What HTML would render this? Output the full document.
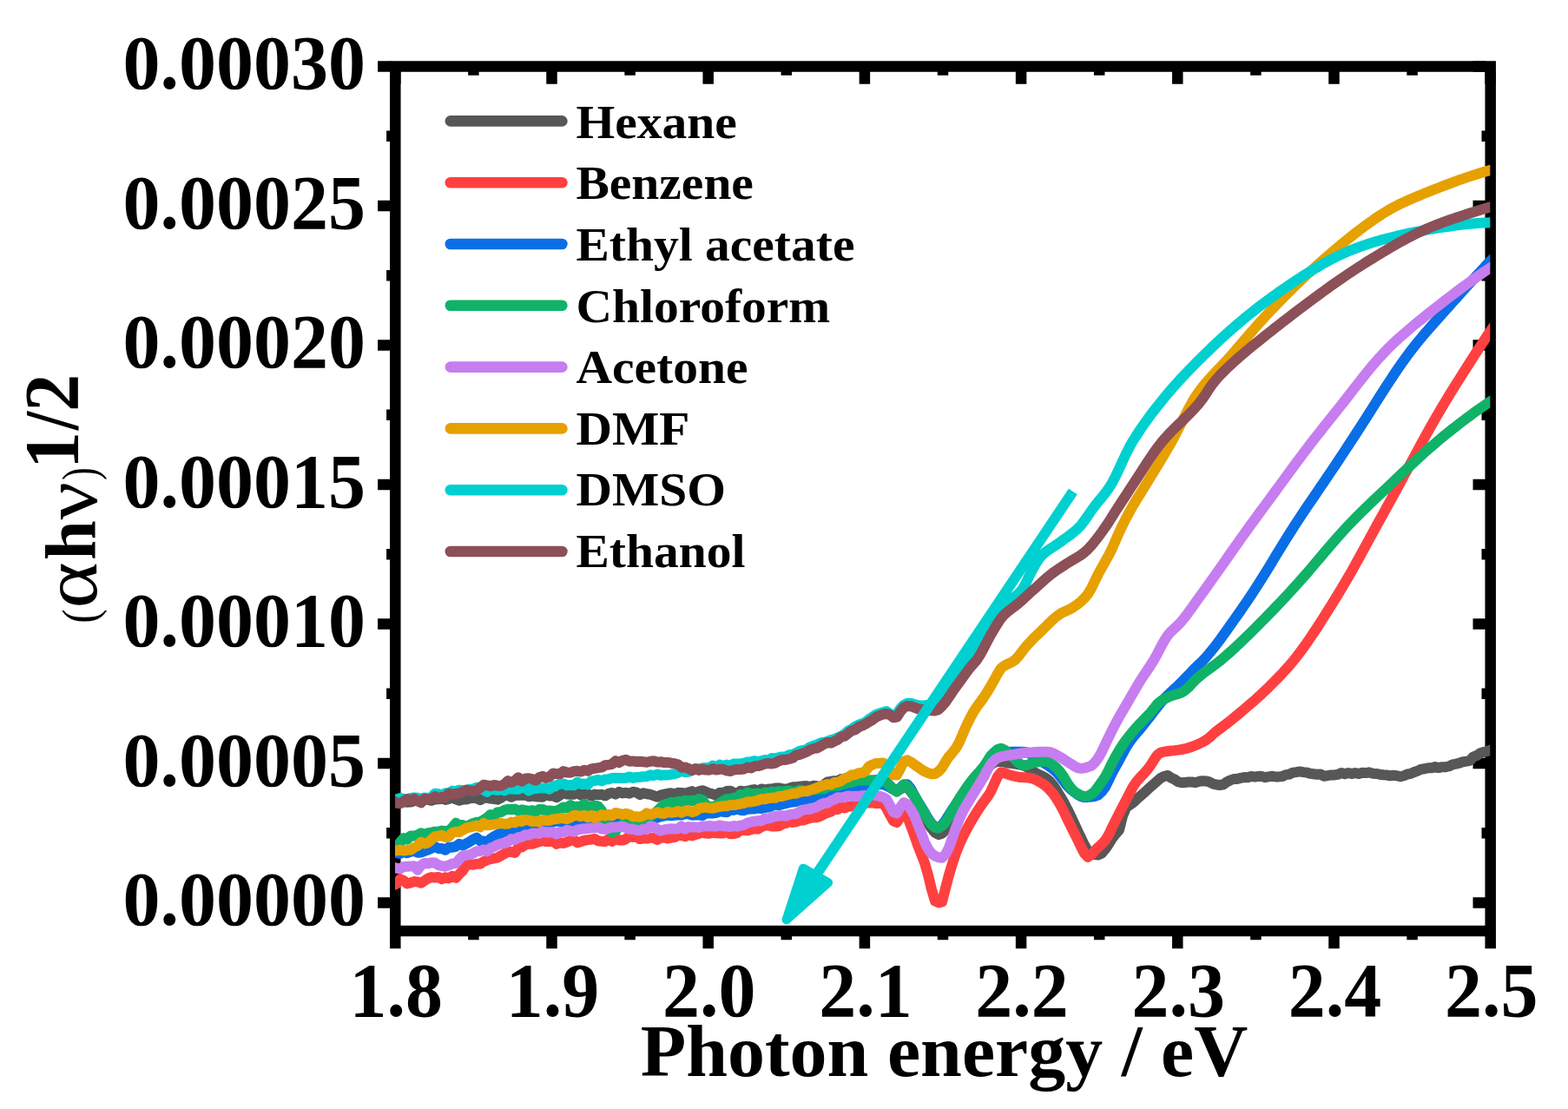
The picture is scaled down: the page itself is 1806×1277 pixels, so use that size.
<!DOCTYPE html>
<html lang="en"><head><meta charset="utf-8"><title>Tauc plot</title>
<style>
html,body{margin:0;padding:0;background:#fff;}
body{width:1806px;height:1277px;overflow:hidden;}
svg{display:block;}
text{font-family:"Liberation Serif","DejaVu Serif",serif;font-weight:bold;fill:#000;}
.tk{font-size:86px;}
.lg{font-size:57.5px;}
.cv{fill:none;stroke-linejoin:round;stroke-linecap:butt;stroke-width:12.0;}
.ax{stroke:#000;fill:none;}
</style></head><body>
<svg width="1806" height="1277" viewBox="0 0 1806 1277">
<rect x="0" y="0" width="1806" height="1277" fill="#fff"/>
<defs><clipPath id="pc"><rect x="455.0" y="76.5" width="1261.3" height="1015.5"/></clipPath></defs>
<rect class="ax" x="455.3" y="76.5" width="1261.4" height="995.5" stroke-width="12.5"/>
<path class="ax" stroke-width="12.5" d="M455.3 1077.2v15.0M455.3 81.8v15.0M635.5 1077.2v15.0M635.5 81.8v15.0M815.7 1077.2v15.0M815.7 81.8v15.0M995.9 1077.2v15.0M995.9 81.8v15.0M1176.1 1077.2v15.0M1176.1 81.8v15.0M1356.3 1077.2v15.0M1356.3 81.8v15.0M1536.5 1077.2v15.0M1536.5 81.8v15.0M1716.7 1077.2v15.0M1716.7 81.8v15.0M545.4 1077.2v5.0M545.4 81.8v5.0M725.6 1077.2v5.0M725.6 81.8v5.0M905.8 1077.2v5.0M905.8 81.8v5.0M1086.0 1077.2v5.0M1086.0 81.8v5.0M1266.2 1077.2v5.0M1266.2 81.8v5.0M1446.4 1077.2v5.0M1446.4 81.8v5.0M1626.6 1077.2v5.0M1626.6 81.8v5.0M450.1 1039.6h-15.0M1711.5 1039.6h-15.0M450.1 879.1h-15.0M1711.5 879.1h-15.0M450.1 718.5h-15.0M1711.5 718.5h-15.0M450.1 558.0h-15.0M1711.5 558.0h-15.0M450.1 397.5h-15.0M1711.5 397.5h-15.0M450.1 236.9h-15.0M1711.5 236.9h-15.0M450.1 76.4h-15.0M1711.5 76.4h-15.0M450.1 959.3h-5.0M1711.5 959.3h-5.0M450.1 798.8h-5.0M1711.5 798.8h-5.0M450.1 638.3h-5.0M1711.5 638.3h-5.0M450.1 477.7h-5.0M1711.5 477.7h-5.0M450.1 317.2h-5.0M1711.5 317.2h-5.0M450.1 156.7h-5.0M1711.5 156.7h-5.0"/>
<g clip-path="url(#pc)">
<polyline class="cv" stroke="#575757" points="445.0,921.4 449.0,923.9 453.0,921.5 457.0,924.1 461.0,923.4 465.0,923.2 469.0,923.7 473.0,923.5 477.0,922.2 481.0,920.7 485.0,920.5 489.0,920.5 493.0,920.9 497.0,921.8 501.0,920.4 505.0,920.3 509.0,919.6 513.0,920.9 517.0,919.9 521.0,917.8 525.0,920.4 529.0,921.7 533.0,920.6 537.0,920.6 541.0,919.3 545.0,918.8 549.0,919.3 553.0,921.2 557.0,919.1 561.0,918.6 565.0,919.6 569.0,919.9 573.0,920.7 577.0,918.9 581.0,915.6 585.0,916.0 589.0,917.7 593.0,915.9 597.0,915.8 601.0,915.7 605.0,915.6 609.0,917.3 613.0,916.5 617.0,917.2 621.0,917.5 625.0,917.7 629.0,914.2 633.0,916.4 637.0,916.3 641.0,918.2 645.0,915.6 649.0,911.6 653.0,914.6 657.0,914.8 661.0,914.8 665.0,912.7 669.0,915.5 673.0,914.2 677.0,914.0 681.0,916.5 685.0,914.6 689.0,915.2 693.0,914.8 697.0,916.3 701.0,913.8 705.0,912.9 709.0,914.6 713.0,911.8 717.0,913.4 721.0,912.8 725.0,913.7 729.0,911.8 733.0,912.4 737.0,915.1 741.0,913.2 745.0,914.3 749.0,914.8 753.0,916.2 757.0,917.8 761.0,915.6 765.0,914.6 769.0,913.8 773.0,913.3 777.0,914.3 781.0,912.7 785.0,912.9 789.0,913.9 793.0,912.4 797.0,911.1 801.0,913.4 805.0,911.4 809.0,910.3 813.0,911.6 817.0,913.4 821.0,914.3 825.0,916.0 829.0,912.8 833.0,913.1 837.0,911.0 841.0,910.7 845.0,912.7 849.0,913.9 853.0,910.7 857.0,911.6 861.0,910.7 865.0,909.7 869.0,909.1 873.0,910.6 877.0,908.4 881.0,909.4 885.0,908.6 889.0,908.6 893.0,907.4 897.0,907.4 901.0,908.2 905.0,908.7 909.0,907.7 913.0,906.3 917.0,906.2 921.0,905.7 925.0,905.3 929.0,905.1 933.0,906.0 937.0,904.7 941.0,905.3 945.0,905.4 949.0,903.7 953.0,900.5 957.0,899.8 961.0,899.3 965.0,899.3 969.0,897.0 973.0,896.9 977.0,895.2 981.0,894.4 985.0,894.7 989.0,895.8 993.0,897.2 997.0,898.2 1001.0,898.6 1005.0,898.8 1009.0,898.3 1013.0,898.2 1017.0,897.8 1021.0,900.7 1025.0,904.8 1029.0,909.0 1033.0,911.1 1037.0,908.7 1041.0,905.5 1045.0,906.9 1049.0,911.2 1053.0,916.9 1057.0,924.2 1061.0,932.2 1065.0,940.9 1069.0,948.4 1073.0,954.0 1077.0,958.8 1081.0,961.0 1085.0,959.7 1089.0,955.8 1093.0,949.7 1097.0,939.7 1101.0,930.7 1105.0,924.0 1109.0,918.0 1113.0,912.5 1117.0,907.2 1121.0,901.9 1125.0,896.8 1129.0,892.1 1133.0,888.1 1137.0,884.4 1141.0,880.8 1145.0,878.0 1149.0,876.7 1153.0,876.9 1157.0,877.7 1161.0,878.5 1165.0,879.0 1169.0,879.6 1173.0,880.2 1177.0,881.0 1181.0,882.3 1185.0,884.7 1189.0,887.6 1193.0,890.1 1197.0,892.1 1201.0,894.0 1205.0,896.3 1209.0,899.5 1213.0,904.2 1217.0,910.2 1221.0,916.6 1225.0,923.4 1229.0,931.0 1233.0,939.0 1237.0,947.5 1241.0,956.3 1245.0,964.6 1249.0,973.1 1253.0,980.1 1257.0,983.1 1261.0,984.1 1265.0,984.4 1269.0,982.5 1273.0,977.7 1277.0,972.0 1281.0,965.4 1285.0,960.3 1289.0,955.8 1293.0,939.8 1297.0,930.0 1301.0,927.0 1305.0,924.3 1309.0,920.6 1313.0,917.1 1317.0,913.6 1321.0,909.9 1325.0,906.2 1329.0,902.7 1333.0,899.2 1337.0,895.8 1341.0,893.8 1345.0,893.0 1349.0,895.7 1353.0,897.5 1357.0,900.3 1361.0,901.3 1365.0,901.1 1369.0,900.4 1373.0,900.5 1377.0,901.2 1381.0,899.8 1385.0,899.3 1389.0,899.4 1393.0,900.4 1397.0,902.6 1401.0,903.5 1405.0,904.0 1409.0,903.3 1413.0,900.4 1417.0,898.5 1421.0,897.0 1425.0,896.9 1429.0,895.9 1433.0,895.1 1437.0,895.2 1441.0,893.9 1445.0,894.6 1449.0,894.0 1453.0,893.8 1457.0,895.2 1461.0,894.4 1465.0,893.8 1469.0,894.4 1473.0,894.4 1477.0,894.0 1481.0,892.1 1485.0,891.6 1489.0,889.6 1493.0,889.1 1497.0,888.4 1501.0,889.1 1505.0,889.5 1509.0,890.8 1513.0,891.2 1517.0,891.8 1521.0,891.5 1525.0,893.8 1529.0,893.1 1533.0,892.4 1537.0,892.4 1541.0,891.8 1545.0,889.9 1549.0,891.2 1553.0,889.9 1557.0,891.1 1561.0,889.9 1565.0,891.1 1569.0,889.8 1573.0,890.1 1577.0,889.3 1581.0,890.7 1585.0,890.9 1589.0,891.7 1593.0,892.3 1597.0,892.4 1601.0,893.3 1605.0,892.8 1609.0,893.2 1613.0,894.3 1617.0,893.3 1621.0,891.5 1625.0,890.8 1629.0,889.0 1633.0,887.6 1637.0,885.7 1641.0,885.2 1645.0,884.2 1649.0,884.3 1653.0,883.1 1657.0,884.1 1661.0,883.2 1665.0,883.3 1669.0,882.3 1673.0,880.3 1677.0,879.6 1681.0,878.7 1685.0,877.2 1689.0,876.6 1693.0,875.8 1697.0,871.4 1701.0,870.0 1705.0,867.3 1709.0,866.0 1713.0,865.0 1717.0,863.6 1721.0,862.2 1725.0,859.1"/>
<polyline class="cv" stroke="#ff4040" points="445.0,1019.8 449.0,1019.4 453.0,1019.3 457.0,1017.5 461.0,1012.2 465.0,1013.9 469.0,1017.5 473.0,1016.5 477.0,1015.1 481.0,1015.4 485.0,1016.8 489.0,1014.1 493.0,1011.5 497.0,1010.1 501.0,1010.5 505.0,1010.0 509.0,1012.3 513.0,1010.2 517.0,1011.4 521.0,1008.7 525.0,1010.8 529.0,1006.5 533.0,1002.7 537.0,996.2 541.0,994.8 545.0,995.7 549.0,994.7 553.0,994.8 557.0,992.1 561.0,990.4 565.0,989.1 569.0,988.3 573.0,987.6 577.0,985.3 581.0,983.1 585.0,980.5 589.0,981.0 593.0,982.0 597.0,975.7 601.0,975.6 605.0,972.9 609.0,971.5 613.0,971.7 617.0,970.5 621.0,969.1 625.0,968.0 629.0,969.1 633.0,969.0 637.0,967.7 641.0,971.8 645.0,970.2 649.0,970.9 653.0,969.8 657.0,967.7 661.0,967.3 665.0,970.3 669.0,969.2 673.0,967.7 677.0,967.1 681.0,966.6 685.0,965.9 689.0,968.3 693.0,968.7 697.0,968.9 701.0,966.3 705.0,968.8 709.0,964.7 713.0,967.6 717.0,967.6 721.0,966.1 725.0,963.0 729.0,963.9 733.0,963.5 737.0,966.1 741.0,965.1 745.0,965.6 749.0,964.7 753.0,964.8 757.0,966.9 761.0,964.9 765.0,964.3 769.0,965.5 773.0,964.6 777.0,964.0 781.0,961.9 785.0,961.8 789.0,963.2 793.0,960.9 797.0,962.4 801.0,961.1 805.0,959.9 809.0,958.6 813.0,959.6 817.0,959.7 821.0,958.7 825.0,959.2 829.0,959.5 833.0,959.5 837.0,958.0 841.0,960.2 845.0,960.0 849.0,959.2 853.0,955.5 857.0,956.1 861.0,956.3 865.0,955.0 869.0,954.3 873.0,954.5 877.0,952.1 881.0,950.6 885.0,950.5 889.0,951.4 893.0,951.4 897.0,951.3 901.0,949.0 905.0,947.9 909.0,945.7 913.0,946.9 917.0,946.4 921.0,944.5 925.0,944.6 929.0,943.1 933.0,942.0 937.0,941.2 941.0,941.2 945.0,939.8 949.0,937.5 953.0,936.0 957.0,934.6 961.0,931.9 965.0,932.0 969.0,929.2 973.0,930.4 977.0,928.8 981.0,928.2 985.0,927.4 989.0,927.1 993.0,925.4 997.0,924.6 1001.0,924.5 1005.0,924.3 1009.0,925.0 1013.0,924.8 1017.0,924.9 1021.0,930.4 1025.0,938.2 1029.0,945.4 1033.0,947.0 1037.0,940.7 1041.0,935.7 1045.0,939.9 1049.0,950.7 1053.0,961.5 1057.0,973.0 1061.0,983.4 1065.0,993.6 1069.0,1007.6 1073.0,1024.0 1077.0,1037.6 1081.0,1039.4 1085.0,1038.6 1089.0,1022.8 1093.0,1007.5 1097.0,994.2 1101.0,982.4 1105.0,972.2 1109.0,963.5 1113.0,955.7 1117.0,948.4 1121.0,941.6 1125.0,935.1 1129.0,929.0 1133.0,923.3 1137.0,917.9 1141.0,911.7 1145.0,903.0 1149.0,894.1 1153.0,889.3 1157.0,890.0 1161.0,891.7 1165.0,892.9 1169.0,893.9 1173.0,894.7 1177.0,895.1 1181.0,895.3 1185.0,895.6 1189.0,896.4 1193.0,898.0 1197.0,900.1 1201.0,902.5 1205.0,905.6 1209.0,909.4 1213.0,913.9 1217.0,919.8 1221.0,926.5 1225.0,934.0 1229.0,942.3 1233.0,950.5 1237.0,958.5 1241.0,966.5 1245.0,975.0 1249.0,982.6 1253.0,986.8 1257.0,984.2 1261.0,979.5 1265.0,975.6 1269.0,972.0 1273.0,967.7 1277.0,961.2 1281.0,952.6 1285.0,944.6 1289.0,936.7 1293.0,928.9 1297.0,921.2 1301.0,913.4 1305.0,905.9 1309.0,900.1 1313.0,895.5 1317.0,891.3 1321.0,886.9 1325.0,881.7 1329.0,875.2 1333.0,869.3 1337.0,866.5 1341.0,865.6 1345.0,865.0 1349.0,864.5 1353.0,864.1 1357.0,863.6 1361.0,863.0 1365.0,862.2 1369.0,861.1 1373.0,859.8 1377.0,858.2 1381.0,856.5 1385.0,854.5 1389.0,852.3 1393.0,849.3 1397.0,845.5 1401.0,842.1 1405.0,839.1 1409.0,836.1 1413.0,833.1 1417.0,830.0 1421.0,826.8 1425.0,823.5 1429.0,820.1 1433.0,816.7 1437.0,813.3 1441.0,809.9 1445.0,806.4 1449.0,802.8 1453.0,799.2 1457.0,795.4 1461.0,791.6 1465.0,787.6 1469.0,783.6 1473.0,779.5 1477.0,775.3 1481.0,770.9 1485.0,766.4 1489.0,761.7 1493.0,756.7 1497.0,751.5 1501.0,746.1 1505.0,740.5 1509.0,734.7 1513.0,728.7 1517.0,722.6 1521.0,716.4 1525.0,710.1 1529.0,703.8 1533.0,697.5 1537.0,691.0 1541.0,684.5 1545.0,677.9 1549.0,671.2 1553.0,664.3 1557.0,657.4 1561.0,650.2 1565.0,643.0 1569.0,635.7 1573.0,628.4 1577.0,621.0 1581.0,613.6 1585.0,606.3 1589.0,599.0 1593.0,591.8 1597.0,584.5 1601.0,577.3 1605.0,570.1 1609.0,562.8 1613.0,555.4 1617.0,548.0 1621.0,540.6 1625.0,533.2 1629.0,525.7 1633.0,518.3 1637.0,510.9 1641.0,503.6 1645.0,496.4 1649.0,489.3 1653.0,482.3 1657.0,475.4 1661.0,468.7 1665.0,462.0 1669.0,455.4 1673.0,448.9 1677.0,442.4 1681.0,436.1 1685.0,429.7 1689.0,423.5 1693.0,417.2 1697.0,411.0 1701.0,404.8 1705.0,398.7 1709.0,392.6 1713.0,386.5 1717.0,380.7 1721.0,375.0 1725.0,369.7"/>
<polyline class="cv" stroke="#0a6ee6" points="445.0,978.9 449.0,980.8 453.0,982.0 457.0,982.4 461.0,982.9 465.0,980.8 469.0,982.3 473.0,980.7 477.0,979.6 481.0,981.8 485.0,981.6 489.0,979.9 493.0,978.5 497.0,976.7 501.0,974.9 505.0,976.9 509.0,977.0 513.0,978.8 517.0,975.6 521.0,975.7 525.0,974.8 529.0,971.8 533.0,973.5 537.0,971.4 541.0,969.2 545.0,966.7 549.0,964.7 553.0,968.4 557.0,968.6 561.0,969.7 565.0,966.0 569.0,963.2 573.0,961.0 577.0,959.4 581.0,957.8 585.0,956.6 589.0,954.1 593.0,955.2 597.0,951.1 601.0,952.5 605.0,949.3 609.0,952.8 613.0,950.8 617.0,948.4 621.0,946.7 625.0,946.5 629.0,946.4 633.0,947.1 637.0,946.3 641.0,945.5 645.0,945.9 649.0,945.8 653.0,947.4 657.0,945.8 661.0,946.9 665.0,947.0 669.0,946.1 673.0,943.6 677.0,944.7 681.0,944.5 685.0,943.1 689.0,944.5 693.0,943.7 697.0,942.5 701.0,944.6 705.0,944.9 709.0,943.5 713.0,941.4 717.0,944.0 721.0,944.1 725.0,944.3 729.0,943.4 733.0,944.0 737.0,943.8 741.0,943.4 745.0,943.7 749.0,941.3 753.0,943.4 757.0,941.4 761.0,940.2 765.0,939.5 769.0,938.6 773.0,939.3 777.0,938.9 781.0,938.3 785.0,938.6 789.0,937.3 793.0,937.3 797.0,938.7 801.0,938.2 805.0,938.4 809.0,939.1 813.0,936.2 817.0,936.6 821.0,936.5 825.0,935.8 829.0,934.3 833.0,934.9 837.0,935.3 841.0,932.4 845.0,932.9 849.0,931.6 853.0,932.9 857.0,933.2 861.0,931.8 865.0,931.5 869.0,931.4 873.0,930.5 877.0,931.0 881.0,930.1 885.0,929.6 889.0,928.1 893.0,926.4 897.0,927.3 901.0,926.0 905.0,925.2 909.0,923.9 913.0,923.6 917.0,923.0 921.0,921.5 925.0,921.5 929.0,920.0 933.0,919.3 937.0,918.5 941.0,918.5 945.0,917.3 949.0,916.1 953.0,915.0 957.0,913.6 961.0,913.1 965.0,912.7 969.0,911.9 973.0,910.1 977.0,910.7 981.0,910.0 985.0,908.6 989.0,908.9 993.0,907.7 997.0,909.3 1001.0,905.4 1005.0,903.9 1009.0,903.7 1013.0,903.2 1017.0,902.9 1021.0,904.7 1025.0,906.8 1029.0,909.1 1033.0,909.7 1037.0,907.3 1041.0,903.4 1045.0,903.2 1049.0,908.1 1053.0,915.6 1057.0,922.9 1061.0,929.1 1065.0,935.9 1069.0,942.7 1073.0,948.4 1077.0,952.1 1081.0,952.7 1085.0,950.0 1089.0,944.8 1093.0,938.4 1097.0,931.9 1101.0,926.3 1105.0,920.9 1109.0,915.4 1113.0,909.7 1117.0,904.0 1121.0,898.4 1125.0,893.0 1129.0,887.9 1133.0,883.1 1137.0,878.1 1141.0,873.0 1145.0,868.9 1149.0,866.7 1153.0,866.3 1157.0,866.0 1161.0,865.9 1165.0,865.8 1169.0,865.8 1173.0,865.8 1177.0,865.8 1181.0,865.9 1185.0,867.2 1189.0,869.4 1193.0,872.2 1197.0,875.0 1201.0,877.6 1205.0,880.1 1209.0,882.8 1213.0,885.7 1217.0,889.2 1221.0,893.9 1225.0,899.3 1229.0,904.5 1233.0,908.5 1237.0,911.8 1241.0,914.8 1245.0,917.1 1249.0,918.1 1253.0,917.9 1257.0,917.5 1261.0,916.8 1265.0,915.3 1269.0,911.6 1273.0,906.4 1277.0,898.4 1281.0,889.8 1285.0,882.6 1289.0,875.5 1293.0,868.0 1297.0,860.6 1301.0,854.3 1305.0,849.0 1309.0,844.2 1313.0,839.5 1317.0,834.6 1321.0,829.6 1325.0,824.5 1329.0,819.2 1333.0,814.0 1337.0,809.0 1341.0,804.5 1345.0,800.5 1349.0,796.7 1353.0,793.0 1357.0,789.3 1361.0,785.4 1365.0,781.3 1369.0,777.1 1373.0,772.8 1377.0,768.7 1381.0,764.8 1385.0,761.1 1389.0,756.9 1393.0,752.2 1397.0,747.3 1401.0,742.1 1405.0,736.8 1409.0,731.3 1413.0,725.7 1417.0,720.1 1421.0,714.4 1425.0,708.7 1429.0,703.0 1433.0,697.2 1437.0,691.3 1441.0,685.4 1445.0,679.3 1449.0,673.1 1453.0,666.8 1457.0,660.3 1461.0,653.8 1465.0,647.3 1469.0,640.7 1473.0,634.2 1477.0,627.7 1481.0,621.2 1485.0,614.8 1489.0,608.5 1493.0,602.3 1497.0,596.2 1501.0,590.2 1505.0,584.2 1509.0,578.3 1513.0,572.5 1517.0,566.6 1521.0,560.7 1525.0,554.9 1529.0,548.9 1533.0,543.0 1537.0,537.1 1541.0,531.1 1545.0,525.0 1549.0,519.0 1553.0,512.9 1557.0,506.7 1561.0,500.6 1565.0,494.4 1569.0,488.2 1573.0,482.0 1577.0,475.7 1581.0,469.4 1585.0,463.1 1589.0,456.8 1593.0,450.6 1597.0,444.3 1601.0,438.2 1605.0,432.1 1609.0,426.1 1613.0,420.3 1617.0,414.7 1621.0,409.2 1625.0,403.9 1629.0,398.8 1633.0,393.8 1637.0,389.0 1641.0,384.2 1645.0,379.6 1649.0,375.0 1653.0,370.5 1657.0,366.0 1661.0,361.5 1665.0,357.0 1669.0,352.6 1673.0,348.1 1677.0,343.7 1681.0,339.2 1685.0,334.8 1689.0,330.3 1693.0,325.9 1697.0,321.5 1701.0,317.1 1705.0,312.8 1709.0,308.5 1713.0,304.2 1717.0,300.2 1721.0,296.2 1725.0,292.6"/>
<polyline class="cv" stroke="#10b268" points="445.0,975.0 449.0,973.9 453.0,975.1 457.0,975.2 461.0,969.7 465.0,965.1 469.0,966.6 473.0,962.4 477.0,962.6 481.0,961.5 485.0,959.2 489.0,961.3 493.0,959.2 497.0,958.6 501.0,957.7 505.0,957.8 509.0,956.6 513.0,957.0 517.0,956.6 521.0,953.0 525.0,947.8 529.0,950.1 533.0,950.0 537.0,953.6 541.0,949.9 545.0,948.0 549.0,946.8 553.0,946.5 557.0,944.1 561.0,941.7 565.0,938.0 569.0,939.8 573.0,935.2 577.0,935.2 581.0,932.8 585.0,931.8 589.0,932.2 593.0,931.6 597.0,933.7 601.0,932.3 605.0,933.1 609.0,934.1 613.0,933.1 617.0,934.6 621.0,932.0 625.0,931.9 629.0,933.7 633.0,933.5 637.0,934.0 641.0,933.8 645.0,932.0 649.0,929.4 653.0,930.4 657.0,927.0 661.0,929.3 665.0,928.7 669.0,928.5 673.0,925.8 677.0,928.4 681.0,929.2 685.0,927.4 689.0,928.6 693.0,933.5 697.0,945.9 701.0,952.1 705.0,958.7 709.0,956.9 713.0,951.7 717.0,949.7 721.0,950.0 725.0,947.5 729.0,944.7 733.0,945.3 737.0,945.9 741.0,942.2 745.0,941.6 749.0,940.2 753.0,937.3 757.0,934.0 761.0,929.9 765.0,926.6 769.0,925.6 773.0,923.7 777.0,924.4 781.0,923.0 785.0,922.9 789.0,921.7 793.0,922.5 797.0,921.6 801.0,922.6 805.0,919.8 809.0,921.2 813.0,926.5 817.0,929.7 821.0,929.0 825.0,927.5 829.0,925.1 833.0,922.2 837.0,920.0 841.0,920.4 845.0,918.8 849.0,918.4 853.0,914.5 857.0,916.1 861.0,912.6 865.0,914.0 869.0,913.9 873.0,913.5 877.0,914.5 881.0,912.5 885.0,913.1 889.0,911.6 893.0,912.6 897.0,911.0 901.0,911.8 905.0,911.0 909.0,910.6 913.0,911.4 917.0,911.6 921.0,909.4 925.0,910.6 929.0,910.9 933.0,910.0 937.0,909.1 941.0,909.2 945.0,908.2 949.0,908.4 953.0,906.2 957.0,905.2 961.0,905.1 965.0,904.8 969.0,903.4 973.0,902.5 977.0,901.4 981.0,901.3 985.0,899.6 989.0,897.5 993.0,898.8 997.0,898.3 1001.0,898.9 1005.0,898.6 1009.0,898.7 1013.0,898.4 1017.0,898.3 1021.0,901.3 1025.0,904.9 1029.0,908.7 1033.0,911.6 1037.0,908.0 1041.0,903.4 1045.0,905.4 1049.0,910.5 1053.0,916.1 1057.0,922.8 1061.0,929.9 1065.0,937.2 1069.0,944.0 1073.0,949.5 1077.0,952.8 1081.0,953.5 1085.0,950.9 1089.0,946.9 1093.0,940.6 1097.0,933.0 1101.0,925.9 1105.0,919.4 1109.0,913.3 1113.0,907.3 1117.0,901.6 1121.0,896.5 1125.0,892.1 1129.0,887.8 1133.0,883.0 1137.0,876.8 1141.0,870.5 1145.0,866.3 1149.0,863.0 1153.0,861.7 1157.0,863.4 1161.0,866.8 1165.0,870.1 1169.0,874.2 1173.0,878.2 1177.0,880.9 1181.0,881.4 1185.0,880.2 1189.0,878.8 1193.0,877.9 1197.0,877.2 1201.0,876.7 1205.0,876.7 1209.0,878.1 1213.0,880.9 1217.0,884.2 1221.0,888.8 1225.0,894.3 1229.0,901.1 1233.0,906.9 1237.0,911.1 1241.0,914.0 1245.0,915.9 1249.0,917.1 1253.0,916.8 1257.0,914.6 1261.0,911.2 1265.0,905.9 1269.0,900.1 1273.0,894.3 1277.0,886.7 1281.0,878.3 1285.0,870.9 1289.0,864.0 1293.0,857.7 1297.0,852.1 1301.0,847.0 1305.0,842.1 1309.0,837.5 1313.0,833.2 1317.0,829.1 1321.0,825.0 1325.0,820.8 1329.0,815.9 1333.0,810.7 1337.0,807.4 1341.0,804.9 1345.0,803.0 1349.0,801.3 1353.0,800.0 1357.0,798.9 1361.0,797.4 1365.0,794.9 1369.0,791.3 1373.0,787.0 1377.0,782.8 1381.0,779.2 1385.0,776.0 1389.0,773.0 1393.0,770.1 1397.0,767.2 1401.0,764.2 1405.0,761.1 1409.0,757.7 1413.0,754.3 1417.0,750.7 1421.0,747.1 1425.0,743.4 1429.0,739.6 1433.0,735.7 1437.0,731.9 1441.0,727.9 1445.0,724.0 1449.0,720.0 1453.0,715.9 1457.0,711.9 1461.0,707.8 1465.0,703.7 1469.0,699.5 1473.0,695.3 1477.0,691.1 1481.0,686.8 1485.0,682.5 1489.0,678.2 1493.0,673.8 1497.0,669.3 1501.0,664.8 1505.0,660.2 1509.0,655.6 1513.0,650.9 1517.0,646.2 1521.0,641.5 1525.0,636.7 1529.0,632.0 1533.0,627.3 1537.0,622.7 1541.0,618.1 1545.0,613.7 1549.0,609.3 1553.0,605.0 1557.0,600.8 1561.0,596.7 1565.0,592.7 1569.0,588.8 1573.0,584.9 1577.0,581.0 1581.0,577.2 1585.0,573.4 1589.0,569.6 1593.0,565.8 1597.0,562.1 1601.0,558.3 1605.0,554.5 1609.0,550.7 1613.0,546.9 1617.0,543.1 1621.0,539.3 1625.0,535.6 1629.0,531.8 1633.0,528.1 1637.0,524.5 1641.0,520.9 1645.0,517.3 1649.0,513.9 1653.0,510.4 1657.0,507.0 1661.0,503.7 1665.0,500.4 1669.0,497.2 1673.0,494.0 1677.0,490.9 1681.0,487.8 1685.0,484.8 1689.0,481.7 1693.0,478.8 1697.0,475.8 1701.0,472.9 1705.0,470.1 1709.0,467.3 1713.0,464.6 1717.0,462.0 1721.0,459.5 1725.0,457.2"/>
<polyline class="cv" stroke="#c67df0" points="445.0,998.5 449.0,999.9 453.0,998.7 457.0,999.7 461.0,1000.3 465.0,998.1 469.0,997.8 473.0,997.5 477.0,997.3 481.0,1001.7 485.0,996.4 489.0,994.0 493.0,994.4 497.0,993.3 501.0,993.6 505.0,996.1 509.0,997.1 513.0,997.7 517.0,996.3 521.0,994.4 525.0,994.1 529.0,989.5 533.0,985.4 537.0,984.9 541.0,984.2 545.0,982.5 549.0,980.2 553.0,980.0 557.0,978.3 561.0,980.4 565.0,976.6 569.0,975.0 573.0,972.8 577.0,971.5 581.0,971.1 585.0,969.5 589.0,966.1 593.0,966.9 597.0,964.3 601.0,963.8 605.0,961.2 609.0,961.6 613.0,959.6 617.0,959.4 621.0,960.0 625.0,957.3 629.0,958.7 633.0,958.3 637.0,958.0 641.0,960.5 645.0,957.8 649.0,958.4 653.0,955.8 657.0,956.7 661.0,957.7 665.0,955.5 669.0,954.8 673.0,954.3 677.0,954.1 681.0,953.4 685.0,953.3 689.0,952.2 693.0,954.5 697.0,954.9 701.0,953.6 705.0,952.5 709.0,952.6 713.0,952.1 717.0,951.4 721.0,953.4 725.0,954.7 729.0,954.6 733.0,955.9 737.0,956.1 741.0,954.5 745.0,955.2 749.0,951.3 753.0,951.9 757.0,954.8 761.0,956.7 765.0,955.3 769.0,954.6 773.0,954.2 777.0,954.4 781.0,954.3 785.0,951.3 789.0,954.6 793.0,952.1 797.0,952.6 801.0,952.4 805.0,952.9 809.0,951.4 813.0,951.5 817.0,951.0 821.0,951.5 825.0,951.5 829.0,950.3 833.0,951.4 837.0,951.6 841.0,952.1 845.0,950.9 849.0,951.7 853.0,950.5 857.0,949.8 861.0,947.6 865.0,946.5 869.0,945.7 873.0,945.1 877.0,945.3 881.0,942.4 885.0,942.5 889.0,941.4 893.0,939.8 897.0,939.5 901.0,939.2 905.0,939.8 909.0,938.1 913.0,937.4 917.0,937.1 921.0,934.7 925.0,932.7 929.0,931.8 933.0,931.9 937.0,930.2 941.0,929.1 945.0,926.4 949.0,924.7 953.0,924.8 957.0,922.1 961.0,920.5 965.0,918.2 969.0,918.4 973.0,917.8 977.0,916.5 981.0,916.9 985.0,916.7 989.0,916.9 993.0,916.2 997.0,916.0 1001.0,916.0 1005.0,915.3 1009.0,916.2 1013.0,916.9 1017.0,918.0 1021.0,920.3 1025.0,927.4 1029.0,934.8 1033.0,936.3 1037.0,929.5 1041.0,924.2 1045.0,926.2 1049.0,931.9 1053.0,939.0 1057.0,948.5 1061.0,959.0 1065.0,969.7 1069.0,977.4 1073.0,983.0 1077.0,985.7 1081.0,987.3 1085.0,987.7 1089.0,983.8 1093.0,976.2 1097.0,964.7 1101.0,952.9 1105.0,942.9 1109.0,934.4 1113.0,927.3 1117.0,920.7 1121.0,914.2 1125.0,907.7 1129.0,901.3 1133.0,894.7 1137.0,887.0 1141.0,880.2 1145.0,875.7 1149.0,872.7 1153.0,871.4 1157.0,870.5 1161.0,869.9 1165.0,869.3 1169.0,868.6 1173.0,867.9 1177.0,867.3 1181.0,866.8 1185.0,866.4 1189.0,866.2 1193.0,865.9 1197.0,865.8 1201.0,865.8 1205.0,865.8 1209.0,865.9 1213.0,867.3 1217.0,869.5 1221.0,871.7 1225.0,874.2 1229.0,876.9 1233.0,879.3 1237.0,881.9 1241.0,884.1 1245.0,884.8 1249.0,884.4 1253.0,883.3 1257.0,881.7 1261.0,878.1 1265.0,872.7 1269.0,865.6 1273.0,857.2 1277.0,848.9 1281.0,840.7 1285.0,832.9 1289.0,825.6 1293.0,818.7 1297.0,811.9 1301.0,805.0 1305.0,798.1 1309.0,791.2 1313.0,784.5 1317.0,778.3 1321.0,772.3 1325.0,766.3 1329.0,760.0 1333.0,752.8 1337.0,745.1 1341.0,737.7 1345.0,731.6 1349.0,727.1 1353.0,723.3 1357.0,719.6 1361.0,715.3 1365.0,710.4 1369.0,705.0 1373.0,699.4 1377.0,693.8 1381.0,688.3 1385.0,682.7 1389.0,677.2 1393.0,671.6 1397.0,665.9 1401.0,660.3 1405.0,654.6 1409.0,649.0 1413.0,643.3 1417.0,637.5 1421.0,631.8 1425.0,626.2 1429.0,620.5 1433.0,614.9 1437.0,609.4 1441.0,603.8 1445.0,598.4 1449.0,592.9 1453.0,587.4 1457.0,582.0 1461.0,576.5 1465.0,571.1 1469.0,565.6 1473.0,560.2 1477.0,554.7 1481.0,549.2 1485.0,543.8 1489.0,538.4 1493.0,532.9 1497.0,527.6 1501.0,522.2 1505.0,517.0 1509.0,511.7 1513.0,506.5 1517.0,501.4 1521.0,496.4 1525.0,491.3 1529.0,486.3 1533.0,481.3 1537.0,476.3 1541.0,471.3 1545.0,466.3 1549.0,461.2 1553.0,456.0 1557.0,450.9 1561.0,445.7 1565.0,440.6 1569.0,435.5 1573.0,430.5 1577.0,425.5 1581.0,420.7 1585.0,416.1 1589.0,411.6 1593.0,407.3 1597.0,403.1 1601.0,399.1 1605.0,395.2 1609.0,391.5 1613.0,387.9 1617.0,384.4 1621.0,380.9 1625.0,377.5 1629.0,374.2 1633.0,370.9 1637.0,367.7 1641.0,364.4 1645.0,361.2 1649.0,358.1 1653.0,354.9 1657.0,351.8 1661.0,348.6 1665.0,345.5 1669.0,342.5 1673.0,339.4 1677.0,336.4 1681.0,333.4 1685.0,330.4 1689.0,327.5 1693.0,324.6 1697.0,321.7 1701.0,318.8 1705.0,316.0 1709.0,313.3 1713.0,310.6 1717.0,308.0 1721.0,305.5 1725.0,303.2"/>
<polyline class="cv" stroke="#e6a000" points="445.0,979.2 449.0,978.5 453.0,979.7 457.0,979.5 461.0,978.6 465.0,979.6 469.0,978.8 473.0,978.7 477.0,976.0 481.0,974.0 485.0,969.7 489.0,971.4 493.0,970.4 497.0,966.8 501.0,963.1 505.0,962.7 509.0,961.8 513.0,964.0 517.0,963.2 521.0,958.8 525.0,957.8 529.0,958.2 533.0,955.8 537.0,953.4 541.0,952.6 545.0,951.6 549.0,950.6 553.0,952.4 557.0,948.0 561.0,950.3 565.0,949.8 569.0,949.4 573.0,948.7 577.0,948.0 581.0,948.7 585.0,948.6 589.0,946.6 593.0,947.3 597.0,944.9 601.0,945.9 605.0,943.9 609.0,944.6 613.0,946.0 617.0,945.6 621.0,946.4 625.0,944.1 629.0,944.9 633.0,944.8 637.0,943.5 641.0,943.0 645.0,942.3 649.0,942.2 653.0,943.1 657.0,941.5 661.0,938.9 665.0,939.0 669.0,940.1 673.0,938.9 677.0,941.2 681.0,938.9 685.0,941.9 689.0,940.3 693.0,937.9 697.0,939.2 701.0,937.9 705.0,939.3 709.0,936.0 713.0,936.8 717.0,938.1 721.0,936.7 725.0,937.9 729.0,940.3 733.0,940.2 737.0,940.7 741.0,939.4 745.0,936.4 749.0,938.1 753.0,936.7 757.0,935.3 761.0,936.6 765.0,936.9 769.0,934.8 773.0,935.8 777.0,935.4 781.0,934.0 785.0,935.7 789.0,933.9 793.0,932.9 797.0,935.1 801.0,934.0 805.0,930.9 809.0,930.3 813.0,929.6 817.0,930.5 821.0,930.7 825.0,929.6 829.0,928.8 833.0,928.2 837.0,928.2 841.0,926.9 845.0,927.1 849.0,926.4 853.0,925.6 857.0,924.9 861.0,923.3 865.0,923.4 869.0,922.7 873.0,921.6 877.0,920.1 881.0,920.2 885.0,919.1 889.0,918.7 893.0,918.7 897.0,916.9 901.0,916.9 905.0,915.8 909.0,914.8 913.0,913.8 917.0,913.7 921.0,912.0 925.0,911.2 929.0,911.2 933.0,909.9 937.0,908.6 941.0,907.1 945.0,905.5 949.0,904.2 953.0,903.1 957.0,903.6 961.0,900.9 965.0,900.7 969.0,899.1 973.0,896.0 977.0,895.0 981.0,892.2 985.0,892.2 989.0,890.2 993.0,889.8 997.0,887.8 1001.0,882.4 1005.0,880.5 1009.0,878.9 1013.0,878.7 1017.0,878.4 1021.0,881.2 1025.0,887.3 1029.0,892.3 1033.0,892.5 1037.0,885.0 1041.0,876.6 1045.0,875.3 1049.0,877.3 1053.0,880.3 1057.0,883.0 1061.0,885.8 1065.0,888.3 1069.0,890.1 1073.0,891.3 1077.0,891.0 1081.0,888.3 1085.0,884.1 1089.0,877.2 1093.0,871.2 1097.0,866.6 1101.0,861.6 1105.0,854.3 1109.0,844.9 1113.0,835.9 1117.0,827.6 1121.0,820.1 1125.0,814.0 1129.0,808.6 1133.0,803.1 1137.0,796.8 1141.0,790.1 1145.0,783.3 1149.0,775.7 1153.0,769.5 1157.0,766.5 1161.0,764.4 1165.0,762.6 1169.0,760.0 1173.0,755.9 1177.0,750.7 1181.0,745.3 1185.0,740.8 1189.0,736.6 1193.0,732.6 1197.0,728.8 1201.0,724.9 1205.0,721.0 1209.0,717.0 1213.0,713.2 1217.0,709.8 1221.0,706.9 1225.0,704.8 1229.0,703.0 1233.0,701.1 1237.0,698.7 1241.0,695.9 1245.0,692.6 1249.0,688.7 1253.0,684.1 1257.0,677.4 1261.0,669.1 1265.0,660.8 1269.0,653.6 1273.0,646.6 1277.0,639.4 1281.0,631.3 1285.0,622.1 1289.0,613.0 1293.0,604.6 1297.0,596.7 1301.0,589.2 1305.0,582.1 1309.0,575.4 1313.0,569.0 1317.0,562.6 1321.0,556.1 1325.0,549.5 1329.0,543.0 1333.0,536.4 1337.0,529.8 1341.0,523.1 1345.0,516.3 1349.0,509.4 1353.0,502.1 1357.0,494.3 1361.0,486.4 1365.0,478.5 1369.0,470.7 1373.0,463.4 1377.0,456.7 1381.0,450.8 1385.0,445.6 1389.0,440.7 1393.0,436.1 1397.0,431.7 1401.0,427.5 1405.0,423.4 1409.0,419.2 1413.0,414.9 1417.0,410.4 1421.0,405.9 1425.0,401.3 1429.0,396.6 1433.0,392.0 1437.0,387.3 1441.0,382.7 1445.0,378.1 1449.0,373.6 1453.0,369.2 1457.0,364.8 1461.0,360.5 1465.0,356.2 1469.0,352.1 1473.0,347.9 1477.0,343.8 1481.0,339.7 1485.0,335.7 1489.0,331.8 1493.0,327.9 1497.0,324.1 1501.0,320.3 1505.0,316.5 1509.0,312.8 1513.0,309.2 1517.0,305.5 1521.0,302.0 1525.0,298.4 1529.0,294.9 1533.0,291.5 1537.0,288.1 1541.0,284.7 1545.0,281.4 1549.0,278.1 1553.0,274.9 1557.0,271.7 1561.0,268.6 1565.0,265.5 1569.0,262.5 1573.0,259.5 1577.0,256.6 1581.0,253.8 1585.0,251.0 1589.0,248.4 1593.0,245.8 1597.0,243.4 1601.0,241.0 1605.0,238.8 1609.0,236.7 1613.0,234.7 1617.0,232.8 1621.0,231.0 1625.0,229.2 1629.0,227.5 1633.0,225.9 1637.0,224.3 1641.0,222.6 1645.0,221.0 1649.0,219.4 1653.0,217.8 1657.0,216.2 1661.0,214.7 1665.0,213.1 1669.0,211.6 1673.0,210.1 1677.0,208.6 1681.0,207.2 1685.0,205.8 1689.0,204.4 1693.0,203.1 1697.0,201.8 1701.0,200.5 1705.0,199.2 1709.0,198.0 1713.0,196.9 1717.0,195.7 1721.0,194.6 1725.0,193.6"/>
<polyline class="cv" stroke="#00d0d0" points="445.0,923.3 449.0,919.3 453.0,920.2 457.0,920.8 461.0,919.0 465.0,919.8 469.0,921.0 473.0,918.9 477.0,918.4 481.0,918.7 485.0,919.9 489.0,918.4 493.0,919.1 497.0,917.9 501.0,913.7 505.0,914.3 509.0,915.4 513.0,913.3 517.0,913.3 521.0,910.6 525.0,911.1 529.0,909.7 533.0,910.5 537.0,910.0 541.0,908.9 545.0,908.6 549.0,906.7 553.0,906.7 557.0,909.5 561.0,911.8 565.0,908.0 569.0,909.3 573.0,909.9 577.0,908.9 581.0,910.5 585.0,908.4 589.0,908.3 593.0,908.7 597.0,908.7 601.0,907.4 605.0,906.9 609.0,910.4 613.0,908.5 617.0,908.0 621.0,907.4 625.0,907.6 629.0,907.3 633.0,908.8 637.0,905.4 641.0,904.2 645.0,902.5 649.0,902.4 653.0,904.4 657.0,903.9 661.0,904.4 665.0,900.7 669.0,902.8 673.0,902.5 677.0,903.5 681.0,899.5 685.0,899.0 689.0,897.9 693.0,899.3 697.0,897.5 701.0,897.2 705.0,895.9 709.0,895.7 713.0,896.0 717.0,896.0 721.0,895.8 725.0,894.5 729.0,895.9 733.0,894.9 737.0,894.8 741.0,894.3 745.0,894.1 749.0,892.3 753.0,893.0 757.0,891.5 761.0,892.9 765.0,892.4 769.0,892.4 773.0,891.9 777.0,891.1 781.0,889.8 785.0,887.7 789.0,889.2 793.0,888.8 797.0,886.9 801.0,885.4 805.0,885.5 809.0,884.4 813.0,884.0 817.0,884.6 821.0,881.5 825.0,883.4 829.0,880.5 833.0,882.1 837.0,880.6 841.0,882.1 845.0,879.4 849.0,879.6 853.0,879.4 857.0,878.8 861.0,877.5 865.0,877.1 869.0,876.2 873.0,877.1 877.0,876.2 881.0,875.0 885.0,875.8 889.0,872.9 893.0,873.4 897.0,872.1 901.0,871.4 905.0,871.5 909.0,869.1 913.0,868.7 917.0,867.0 921.0,864.8 925.0,863.8 929.0,863.1 933.0,860.1 937.0,858.8 941.0,857.6 945.0,855.4 949.0,854.7 953.0,853.7 957.0,852.0 961.0,851.0 965.0,849.4 969.0,847.7 973.0,845.0 977.0,841.6 981.0,839.5 985.0,836.5 989.0,834.5 993.0,833.3 997.0,831.4 1001.0,828.1 1005.0,825.5 1009.0,822.9 1013.0,821.5 1017.0,820.2 1021.0,819.0 1025.0,822.0 1029.0,824.3 1033.0,822.4 1037.0,815.9 1041.0,811.8 1045.0,809.7 1049.0,809.8 1053.0,811.0 1057.0,812.1 1061.0,812.5 1065.0,812.2 1069.0,811.6 1073.0,810.7 1077.0,808.4 1081.0,804.9 1085.0,799.3 1089.0,793.1 1093.0,787.5 1097.0,782.1 1101.0,776.6 1105.0,771.2 1109.0,765.7 1113.0,760.0 1117.0,753.9 1121.0,747.2 1125.0,740.2 1129.0,733.3 1133.0,726.6 1137.0,720.3 1141.0,714.0 1145.0,708.4 1149.0,703.9 1153.0,700.3 1157.0,697.0 1161.0,693.7 1165.0,690.3 1169.0,687.1 1173.0,683.7 1177.0,679.4 1181.0,672.7 1185.0,664.1 1189.0,656.3 1193.0,649.1 1197.0,642.9 1201.0,638.5 1205.0,635.2 1209.0,632.3 1213.0,629.7 1217.0,627.2 1221.0,624.4 1225.0,621.4 1229.0,618.6 1233.0,615.7 1237.0,612.5 1241.0,609.0 1245.0,604.9 1249.0,599.7 1253.0,593.9 1257.0,588.0 1261.0,582.6 1265.0,577.6 1269.0,572.8 1273.0,567.8 1277.0,562.3 1281.0,555.8 1285.0,548.2 1289.0,539.8 1293.0,531.1 1297.0,522.5 1301.0,514.6 1305.0,507.6 1309.0,501.2 1313.0,495.1 1317.0,489.3 1321.0,483.7 1325.0,478.2 1329.0,473.0 1333.0,467.9 1337.0,462.9 1341.0,457.9 1345.0,453.1 1349.0,448.5 1353.0,443.9 1357.0,439.5 1361.0,435.1 1365.0,430.9 1369.0,426.7 1373.0,422.6 1377.0,418.5 1381.0,414.5 1385.0,410.6 1389.0,406.6 1393.0,402.8 1397.0,398.9 1401.0,395.1 1405.0,391.4 1409.0,387.7 1413.0,384.1 1417.0,380.5 1421.0,377.0 1425.0,373.6 1429.0,370.2 1433.0,366.8 1437.0,363.6 1441.0,360.4 1445.0,357.2 1449.0,354.1 1453.0,351.0 1457.0,348.0 1461.0,345.1 1465.0,342.2 1469.0,339.3 1473.0,336.4 1477.0,333.6 1481.0,330.9 1485.0,328.1 1489.0,325.5 1493.0,322.8 1497.0,320.2 1501.0,317.6 1505.0,315.1 1509.0,312.6 1513.0,310.2 1517.0,307.8 1521.0,305.4 1525.0,303.1 1529.0,300.9 1533.0,298.8 1537.0,296.7 1541.0,294.7 1545.0,292.8 1549.0,291.0 1553.0,289.3 1557.0,287.7 1561.0,286.1 1565.0,284.6 1569.0,283.2 1573.0,281.9 1577.0,280.5 1581.0,279.3 1585.0,278.1 1589.0,276.9 1593.0,275.8 1597.0,274.7 1601.0,273.7 1605.0,272.7 1609.0,271.7 1613.0,270.8 1617.0,269.9 1621.0,269.0 1625.0,268.2 1629.0,267.4 1633.0,266.6 1637.0,265.8 1641.0,265.1 1645.0,264.4 1649.0,263.7 1653.0,263.1 1657.0,262.4 1661.0,261.8 1665.0,261.2 1669.0,260.7 1673.0,260.1 1677.0,259.6 1681.0,259.1 1685.0,258.6 1689.0,258.2 1693.0,257.8 1697.0,257.4 1701.0,257.1 1705.0,256.8 1709.0,256.6 1713.0,256.4 1717.0,256.3 1721.0,256.2 1725.0,256.1"/>
<polyline class="cv" stroke="#8c5058" points="445.0,923.9 449.0,923.4 453.0,922.2 457.0,924.7 461.0,925.2 465.0,922.7 469.0,920.1 473.0,921.8 477.0,919.7 481.0,922.6 485.0,924.3 489.0,919.7 493.0,920.3 497.0,919.9 501.0,917.1 505.0,919.3 509.0,917.7 513.0,918.4 517.0,913.6 521.0,914.8 525.0,913.9 529.0,913.5 533.0,911.7 537.0,909.6 541.0,910.5 545.0,910.9 549.0,910.4 553.0,907.1 557.0,903.8 561.0,904.4 565.0,905.2 569.0,903.9 573.0,904.7 577.0,904.9 581.0,903.0 585.0,899.2 589.0,900.9 593.0,898.9 597.0,895.2 601.0,899.8 605.0,896.6 609.0,896.3 613.0,897.2 617.0,898.8 621.0,895.2 625.0,893.8 629.0,895.8 633.0,894.3 637.0,890.5 641.0,891.1 645.0,891.1 649.0,888.1 653.0,889.5 657.0,889.7 661.0,888.2 665.0,887.8 669.0,888.6 673.0,886.8 677.0,887.8 681.0,885.4 685.0,884.8 689.0,884.1 693.0,883.6 697.0,881.1 701.0,880.6 705.0,879.8 709.0,876.2 713.0,878.1 717.0,875.8 721.0,874.7 725.0,876.8 729.0,876.4 733.0,877.0 737.0,876.7 741.0,877.2 745.0,877.7 749.0,876.7 753.0,876.3 757.0,877.6 761.0,877.2 765.0,878.1 769.0,877.9 773.0,878.7 777.0,879.3 781.0,880.3 785.0,883.7 789.0,883.5 793.0,884.9 797.0,887.1 801.0,885.0 805.0,886.9 809.0,885.6 813.0,886.6 817.0,886.7 821.0,885.1 825.0,886.5 829.0,885.8 833.0,885.7 837.0,887.4 841.0,888.0 845.0,886.6 849.0,885.9 853.0,886.1 857.0,885.5 861.0,883.5 865.0,884.4 869.0,882.2 873.0,882.1 877.0,881.1 881.0,879.4 885.0,879.1 889.0,879.4 893.0,878.6 897.0,876.3 901.0,874.8 905.0,874.9 909.0,874.0 913.0,872.8 917.0,869.5 921.0,869.0 925.0,867.4 929.0,865.8 933.0,863.6 937.0,861.9 941.0,861.5 945.0,859.2 949.0,856.9 953.0,854.9 957.0,855.6 961.0,853.6 965.0,851.8 969.0,848.4 973.0,847.6 977.0,844.4 981.0,841.3 985.0,840.4 989.0,837.2 993.0,835.7 997.0,833.7 1001.0,831.2 1005.0,828.8 1009.0,825.7 1013.0,824.0 1017.0,822.5 1021.0,822.0 1025.0,823.1 1029.0,826.2 1033.0,825.6 1037.0,819.5 1041.0,814.6 1045.0,812.9 1049.0,813.2 1053.0,814.6 1057.0,816.1 1061.0,816.8 1065.0,817.4 1069.0,817.9 1073.0,818.2 1077.0,818.4 1081.0,817.0 1085.0,813.1 1089.0,808.5 1093.0,802.7 1097.0,796.6 1101.0,791.0 1105.0,785.5 1109.0,780.0 1113.0,774.5 1117.0,769.2 1121.0,764.5 1125.0,760.0 1129.0,753.8 1133.0,746.5 1137.0,738.8 1141.0,731.3 1145.0,724.5 1149.0,717.9 1153.0,712.0 1157.0,707.4 1161.0,703.9 1165.0,701.0 1169.0,698.0 1173.0,694.8 1177.0,691.2 1181.0,687.6 1185.0,683.9 1189.0,680.2 1193.0,676.7 1197.0,673.1 1201.0,669.5 1205.0,665.9 1209.0,662.6 1213.0,659.5 1217.0,656.7 1221.0,654.0 1225.0,651.4 1229.0,648.8 1233.0,646.3 1237.0,644.0 1241.0,641.6 1245.0,639.1 1249.0,636.1 1253.0,632.5 1257.0,628.2 1261.0,623.3 1265.0,618.1 1269.0,612.7 1273.0,607.1 1277.0,601.1 1281.0,594.8 1285.0,588.4 1289.0,582.2 1293.0,576.1 1297.0,569.9 1301.0,563.8 1305.0,557.7 1309.0,551.6 1313.0,545.4 1317.0,539.2 1321.0,533.0 1325.0,527.0 1329.0,521.2 1333.0,515.6 1337.0,510.4 1341.0,505.6 1345.0,501.2 1349.0,497.0 1353.0,493.0 1357.0,489.1 1361.0,485.3 1365.0,481.4 1369.0,477.5 1373.0,473.4 1377.0,469.1 1381.0,464.5 1385.0,459.3 1389.0,453.4 1393.0,447.2 1397.0,441.6 1401.0,436.7 1405.0,432.3 1409.0,428.2 1413.0,424.2 1417.0,420.5 1421.0,416.9 1425.0,413.3 1429.0,409.8 1433.0,406.4 1437.0,403.0 1441.0,399.7 1445.0,396.4 1449.0,393.2 1453.0,390.0 1457.0,386.8 1461.0,383.6 1465.0,380.5 1469.0,377.3 1473.0,374.2 1477.0,371.1 1481.0,368.0 1485.0,364.9 1489.0,361.8 1493.0,358.7 1497.0,355.7 1501.0,352.7 1505.0,349.7 1509.0,346.7 1513.0,343.7 1517.0,340.8 1521.0,337.9 1525.0,335.0 1529.0,332.1 1533.0,329.2 1537.0,326.4 1541.0,323.6 1545.0,320.8 1549.0,318.1 1553.0,315.4 1557.0,312.8 1561.0,310.1 1565.0,307.5 1569.0,305.0 1573.0,302.4 1577.0,299.9 1581.0,297.5 1585.0,295.0 1589.0,292.6 1593.0,290.2 1597.0,287.8 1601.0,285.4 1605.0,283.1 1609.0,280.8 1613.0,278.6 1617.0,276.4 1621.0,274.3 1625.0,272.2 1629.0,270.2 1633.0,268.2 1637.0,266.3 1641.0,264.5 1645.0,262.7 1649.0,261.1 1653.0,259.4 1657.0,257.9 1661.0,256.4 1665.0,254.9 1669.0,253.5 1673.0,252.1 1677.0,250.8 1681.0,249.5 1685.0,248.1 1689.0,246.8 1693.0,245.5 1697.0,244.2 1701.0,243.0 1705.0,241.7 1709.0,240.5 1713.0,239.4 1717.0,238.3 1721.0,237.2 1725.0,236.3"/>
</g>
<g stroke="#00d0d0" fill="#00d0d0" stroke-linejoin="round">
<line x1="1235.8" y1="566.0" x2="934.0" y2="1016.4" stroke-width="12.0" stroke-linecap="butt"/>
<polygon points="925.1,999.9 953.8,1016.4 905.8,1059.1" stroke-width="10.5"/>
</g>
<text class="tk" transform="translate(421,1065.2) scale(1,1.025)" text-anchor="end">0.00000</text>
<text class="tk" transform="translate(421,904.7) scale(1,1.025)" text-anchor="end">0.00005</text>
<text class="tk" transform="translate(421,744.1) scale(1,1.025)" text-anchor="end">0.00010</text>
<text class="tk" transform="translate(421,583.6) scale(1,1.025)" text-anchor="end">0.00015</text>
<text class="tk" transform="translate(421,423.1) scale(1,1.025)" text-anchor="end">0.00020</text>
<text class="tk" transform="translate(421,262.5) scale(1,1.025)" text-anchor="end">0.00025</text>
<text class="tk" transform="translate(421,102.0) scale(1,1.025)" text-anchor="end">0.00030</text>
<text class="tk" transform="translate(456.3,1169.9) scale(1,1.025)" text-anchor="middle">1.8</text>
<text class="tk" transform="translate(636.5,1169.9) scale(1,1.025)" text-anchor="middle">1.9</text>
<text class="tk" transform="translate(816.7,1169.9) scale(1,1.025)" text-anchor="middle">2.0</text>
<text class="tk" transform="translate(996.9,1169.9) scale(1,1.025)" text-anchor="middle">2.1</text>
<text class="tk" transform="translate(1177.1,1169.9) scale(1,1.025)" text-anchor="middle">2.2</text>
<text class="tk" transform="translate(1357.3,1169.9) scale(1,1.025)" text-anchor="middle">2.3</text>
<text class="tk" transform="translate(1537.5,1169.9) scale(1,1.025)" text-anchor="middle">2.4</text>
<text class="tk" transform="translate(1717.7,1169.9) scale(1,1.025)" text-anchor="middle">2.5</text>
<text class="tk" transform="translate(1087.5,1238.8) scale(1,0.974)" text-anchor="middle">Photon energy / eV</text>
<g transform="translate(110.5,716) rotate(-90)">
<text class="tk"><tspan x="-1.6" y="0.0" textLength="16.1" lengthAdjust="spacingAndGlyphs" style="font-size:57.0px;font-weight:normal">(</tspan><tspan x="15.4" y="0.0" textLength="53.2" lengthAdjust="spacingAndGlyphs" style="font-size:88.6px;font-weight:normal">α</tspan><tspan x="70.9" y="-1.8" textLength="45.9" lengthAdjust="spacingAndGlyphs" style="font-size:82.1px;font-weight:bold">h</tspan><tspan x="117.5" y="0.0" textLength="43.6" lengthAdjust="spacingAndGlyphs" style="font-size:89.4px;font-weight:normal">ν</tspan><tspan x="162.9" y="0.0" textLength="14.8" lengthAdjust="spacingAndGlyphs" style="font-size:57.0px;font-weight:normal">)</tspan><tspan x="176.0" y="-21.9" textLength="43.0" lengthAdjust="spacingAndGlyphs" style="font-size:88.6px;font-weight:bold">1</tspan><tspan x="220.7" y="-21.9" textLength="21.5" lengthAdjust="spacingAndGlyphs" style="font-size:88.6px;font-weight:bold">/</tspan><tspan x="242.2" y="-21.9" textLength="43.0" lengthAdjust="spacingAndGlyphs" style="font-size:88.6px;font-weight:bold">2</tspan></text>
</g>
<line x1="518.8" y1="139.4" x2="647.4" y2="139.4" stroke="#575757" stroke-width="12.6" stroke-linecap="round"/>
<text class="lg" transform="translate(663.5,158.7) scale(1,0.960)">Hexane</text>
<line x1="518.8" y1="210.2" x2="647.4" y2="210.2" stroke="#ff4040" stroke-width="12.6" stroke-linecap="round"/>
<text class="lg" transform="translate(663.5,229.3) scale(1,0.960)">Benzene</text>
<line x1="518.8" y1="281.0" x2="647.4" y2="281.0" stroke="#0a6ee6" stroke-width="12.6" stroke-linecap="round"/>
<text class="lg" transform="translate(663.5,299.9) scale(1,0.960)">Ethyl acetate</text>
<line x1="518.8" y1="351.8" x2="647.4" y2="351.8" stroke="#10b268" stroke-width="12.6" stroke-linecap="round"/>
<text class="lg" transform="translate(663.5,370.5) scale(1,0.960)">Chloroform</text>
<line x1="518.8" y1="422.6" x2="647.4" y2="422.6" stroke="#c67df0" stroke-width="12.6" stroke-linecap="round"/>
<text class="lg" transform="translate(663.5,441.1) scale(1,0.960)">Acetone</text>
<line x1="518.8" y1="493.4" x2="647.4" y2="493.4" stroke="#e6a000" stroke-width="12.6" stroke-linecap="round"/>
<text class="lg" transform="translate(663.5,511.7) scale(1,0.960)">DMF</text>
<line x1="518.8" y1="564.2" x2="647.4" y2="564.2" stroke="#00d0d0" stroke-width="12.6" stroke-linecap="round"/>
<text class="lg" transform="translate(663.5,582.3) scale(1,0.960)">DMSO</text>
<line x1="518.8" y1="635.0" x2="647.4" y2="635.0" stroke="#8c5058" stroke-width="12.6" stroke-linecap="round"/>
<text class="lg" transform="translate(663.5,652.9) scale(1,0.960)">Ethanol</text>
</svg></body></html>
